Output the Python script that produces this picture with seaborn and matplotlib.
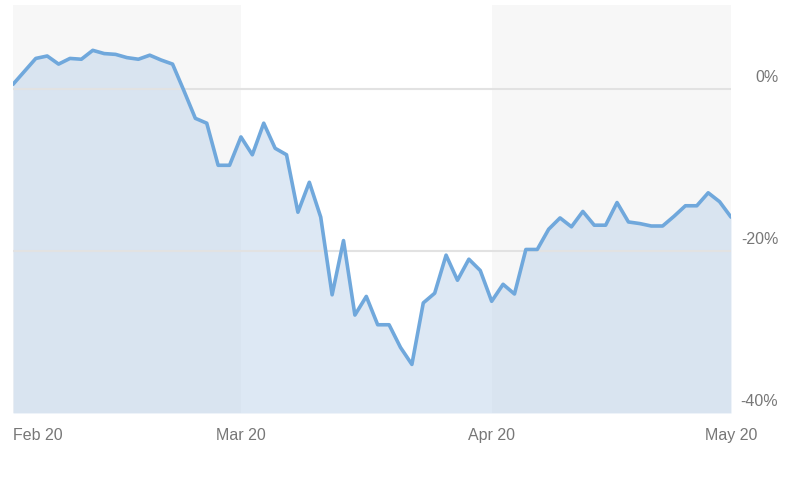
import matplotlib
matplotlib.use("Agg")
import matplotlib.pyplot as plt
import matplotlib.transforms as mtransforms
import pandas as pd
import seaborn as sns

# daily % change since start of Feb 2020 (one value per trading day)
pct_change = [
    0.6, 2.2, 3.8, 4.1, 3.1, 3.8, 3.7, 4.8, 4.4, 4.3,
    3.9, 3.7, 4.2, 3.6, 3.1, -0.2, -3.6, -4.2, -9.4, -9.4,
    -5.9, -8.1, -4.2, -7.3, -8.1, -15.2, -11.5, -15.8, -25.4, -18.7,
    -27.9, -25.6, -29.1, -29.1, -31.9, -34.0, -26.4, -25.2, -20.5, -23.6,
    -21.0, -22.4, -26.2, -24.1, -25.3, -19.8, -19.8, -17.3, -15.9, -17.0,
    -15.1, -16.8, -16.8, -14.0, -16.4, -16.6, -16.9, -16.9, -15.7, -14.4,
    -14.4, -12.8, -13.9, -15.8,
]
month_labels = ["Feb 20", "Mar 20", "Apr 20", "May 20"]
month_start_idx = [0, 20, 42, 63]
y_ticks = [0, -20, -40]
y_tick_labels = ["0%", "-20%", "-40%"]

df = pd.DataFrame({"day": range(len(pct_change)), "pct": pct_change})

sns.set_theme(style="white")
plt.rcParams["font.family"] = ["Liberation Sans", "DejaVu Sans"]

fig = plt.figure(figsize=(8, 4.8), dpi=100)
ax = fig.add_axes([13 / 800, 1 - 413 / 480, 718 / 800, 408 / 480])

ymin, ymax = -40, 10.4

# alternating month bands (Feb and Apr shaded)
for i in range(0, len(month_start_idx) - 1, 2):
    ax.axvspan(month_start_idx[i], month_start_idx[i + 1], color="#f7f7f7", zorder=0, lw=0)

ax.fill_between(df["day"], df["pct"], ymin, color="#bcd3ea", alpha=0.5, lw=0, zorder=1)
sns.lineplot(data=df, x="day", y="pct", ax=ax, color="#70a8dc", linewidth=2.6, zorder=3)

ax.set_xlim(month_start_idx[0], month_start_idx[-1])
ax.set_ylim(ymin, ymax)

ax.set_xticks(month_start_idx)
ax.set_xticklabels(month_labels)
ax.set_yticks(y_ticks)
ax.set_yticklabels(y_tick_labels)
ax.set_xlabel("")
ax.set_ylabel("")

ax.yaxis.tick_right()
ax.tick_params(axis="y", length=0, pad=34, labelsize=11.5, labelcolor="#777777")
ax.tick_params(axis="x", length=3, width=0.8, color="#dddddd", pad=8,
               labelsize=11.5, labelcolor="#777777")
for lab in ax.get_yticklabels():
    lab.set_horizontalalignment("right")
    lab.set_transform(lab.get_transform() + mtransforms.ScaledTranslation(0, 13 / 100, fig.dpi_scale_trans))
ax.get_xticklabels()[0].set_horizontalalignment("left")

ax.set_axisbelow("line")
ax.yaxis.grid(True, color="#e2e2e2", linewidth=1.5)
ax.xaxis.grid(False)
ax.yaxis.get_gridlines()[-1].set_visible(False)

for s in ax.spines.values():
    s.set_visible(False)

fig.savefig("out.png", dpi=100)
